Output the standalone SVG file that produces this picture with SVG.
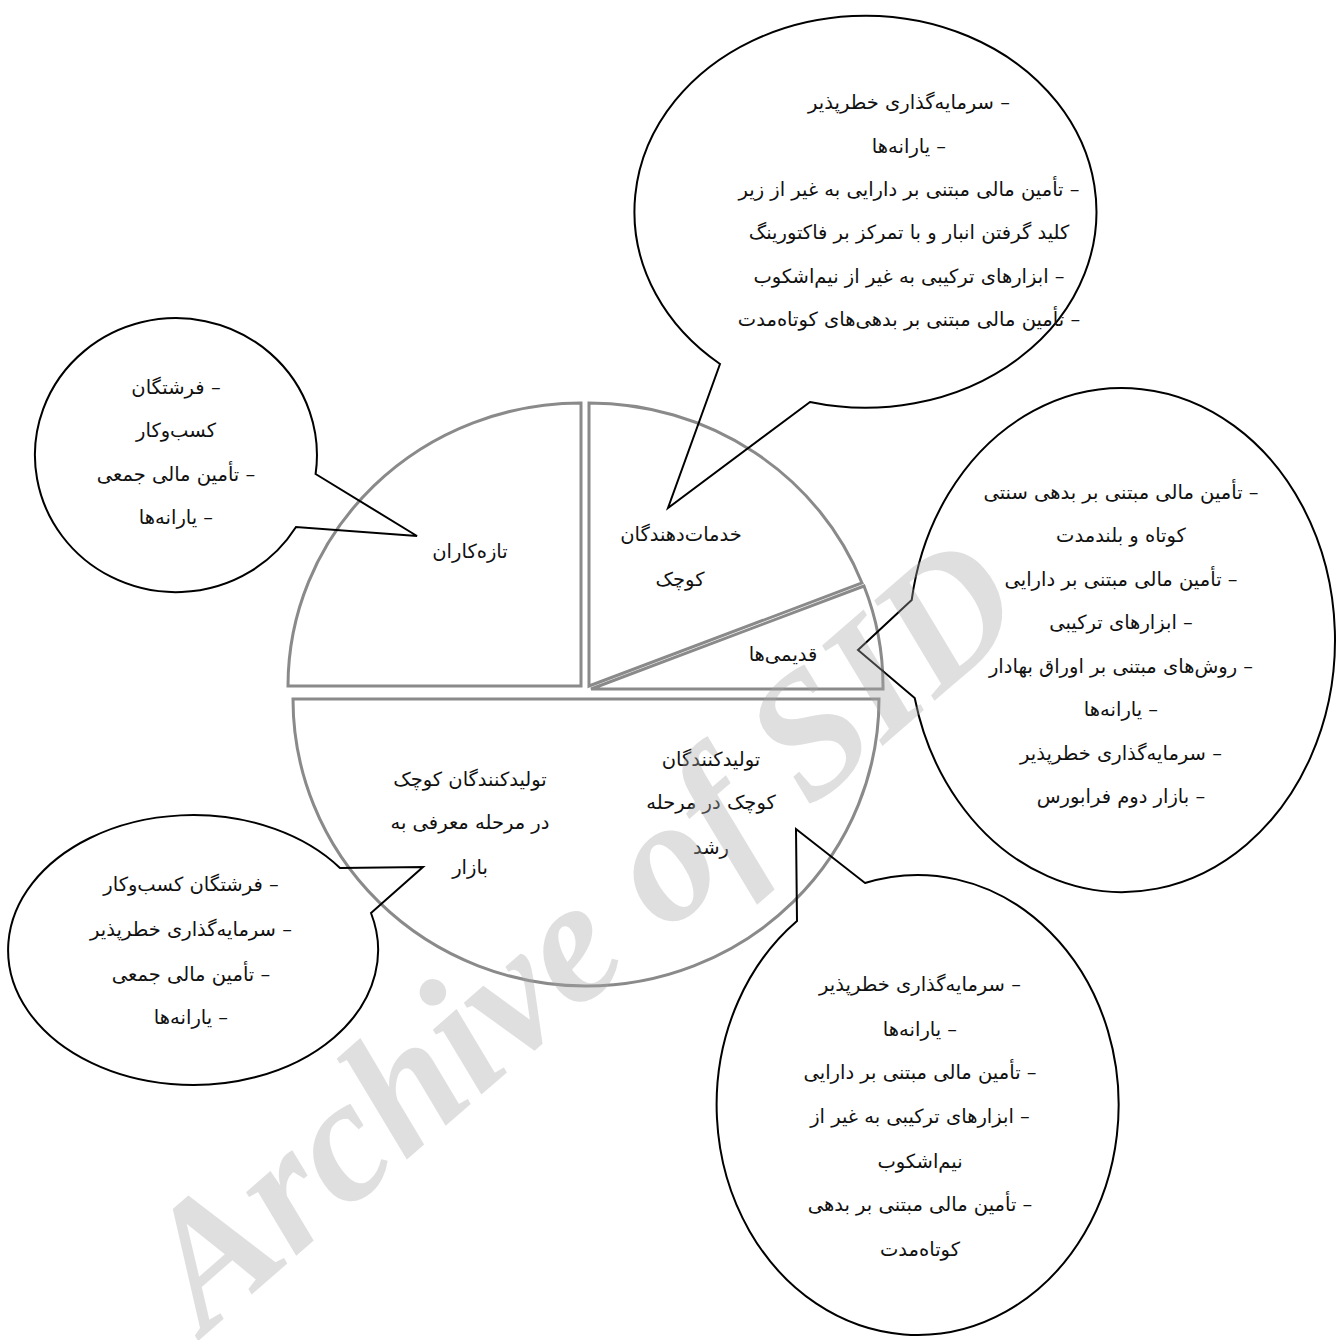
<svg xmlns="http://www.w3.org/2000/svg" width="1342" height="1340" viewBox="0 0 1342 1340">
<style>
.seg{fill:#fff;stroke:#8a8a8a;stroke-width:3}
.bub{fill:none;stroke:#000;stroke-width:2;stroke-linejoin:miter}
.t{font-family:"DejaVu Sans",sans-serif;font-size:19.5px;fill:#111;text-anchor:middle}
.wm{font-family:"Liberation Serif",serif;font-weight:bold;font-style:italic;font-size:176px;fill:#a8a8a8;opacity:0.36}
</style>
<rect width="1342" height="1340" fill="#fff"/>
<g id="pie">
<g id="seg-newcomers">
<path class="seg" d="M581,686 L581,403 A293,283 0 0 0 288,686 Z"/>
<text class="t" x="470" y="558">تازه‌کاران</text>
</g>
<g id="seg-services">
<path class="seg" d="M589,686 L589,403 A293,283 0 0 1 862,583 Z"/>
<text class="t" x="681" y="541">خدمات‌دهندگان</text>
<text class="t" x="680" y="586">کوچک</text>
</g>
<g id="seg-old">
<path class="seg" d="M591,689 L864,586 A293,283 0 0 1 883,689 Z"/>
<text class="t" x="783" y="661">قدیمی‌ها</text>
</g>
<g id="seg-producers">
<path class="seg" d="M293,699 L879,699 A293,287 0 0 1 293,699 Z"/>
<text class="t" x="470" y="786">تولیدکنندگان کوچک</text>
<text class="t" x="470" y="829">در مرحله معرفی به</text>
<text class="t" x="470" y="874">بازار</text>
<text class="t" x="711" y="766">تولیدکنندگان</text>
<text class="t" x="711" y="809">کوچک در مرحله</text>
<text class="t" x="711" y="854">رشد</text>
</g>
</g>
<g id="connectors">
<g id="bubble-top">
<path class="bub" d="M720,364 L668,508 L810,402 A231,196 0 1 0 720,364 Z"/>
<text class="t" x="909" y="109">سرمایه‌گذاری خطرپذیر –</text>
<text class="t" x="909" y="153">یارانه‌ها –</text>
<text class="t" x="909" y="196">تأمین مالی مبتنی بر دارایی به غیر از زیر –</text>
<text class="t" x="909" y="239">کلید گرفتن انبار و با تمرکز بر فاکتورینگ</text>
<text class="t" x="909" y="283">ابزارهای ترکیبی به غیر از نیم‌اشکوب –</text>
<text class="t" x="909" y="326">تأمین مالی مبتنی بر بدهی‌های کوتاه‌مدت –</text>
</g>
<g id="bubble-topleft">
<path class="bub" d="M315.6,474 L417,536 L296,527 A141,137 0 1 1 315.6,474 Z"/>
<text class="t" x="176" y="394">فرشتگان –</text>
<text class="t" x="176" y="437">کسب‌وکار</text>
<text class="t" x="176" y="481">تأمین مالی جمعی –</text>
<text class="t" x="176" y="524">یارانه‌ها –</text>
</g>
<g id="bubble-right">
<path class="bub" d="M911.7,600 L858,650 L914.7,698 A213,252 0 1 0 911.7,600 Z"/>
<text class="t" x="1121" y="499">تأمین مالی مبتنی بر بدهی سنتی –</text>
<text class="t" x="1121" y="542">کوتاه و بلندمدت</text>
<text class="t" x="1121" y="586">تأمین مالی مبتنی بر دارایی –</text>
<text class="t" x="1121" y="629">ابزارهای ترکیبی –</text>
<text class="t" x="1121" y="673">روش‌های مبتنی بر اوراق بهادار –</text>
<text class="t" x="1121" y="716">یارانه‌ها –</text>
<text class="t" x="1121" y="760">سرمایه‌گذاری خطرپذیر –</text>
<text class="t" x="1121" y="803">بازار دوم فرابورس –</text>
</g>
<g id="bubble-bottomleft">
<path class="bub" d="M340,868 L423,867 L371,913 A185,135 0 1 1 340,868 Z"/>
<text class="t" x="191" y="891">فرشتگان کسب‌وکار –</text>
<text class="t" x="191" y="936">سرمایه‌گذاری خطرپذیر –</text>
<text class="t" x="191" y="981">تأمین مالی جمعی –</text>
<text class="t" x="191" y="1024">یارانه‌ها –</text>
</g>
<g id="bubble-bottomright">
<path class="bub" d="M797,921 L796,829 L865,883 A201,230 0 1 1 797,921 Z"/>
<text class="t" x="920" y="991">سرمایه‌گذاری خطرپذیر –</text>
<text class="t" x="920" y="1036">یارانه‌ها –</text>
<text class="t" x="920" y="1079">تأمین مالی مبتنی بر دارایی –</text>
<text class="t" x="920" y="1123">ابزارهای ترکیبی به غیر از –</text>
<text class="t" x="920" y="1168">نیم‌اشکوب</text>
<text class="t" x="920" y="1211">تأمین مالی مبتنی بر بدهی –</text>
<text class="t" x="920" y="1256">کوتاه‌مدت</text>
</g>
</g>
<text class="wm" x="205" y="1335" transform="rotate(-41 205 1335)">Archive of SID</text>
</svg>
